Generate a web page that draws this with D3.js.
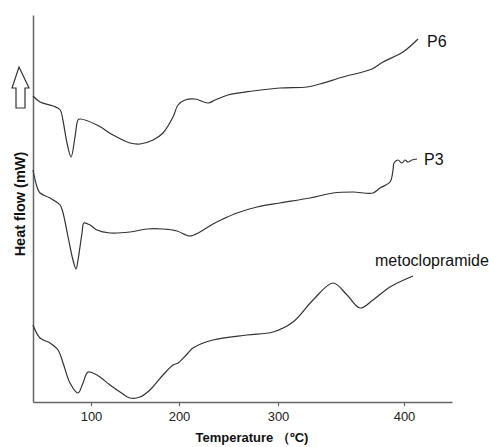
<!DOCTYPE html>
<html>
<head>
<meta charset="utf-8">
<script src="https://cdn.jsdelivr.net/npm/d3@7.9.0/dist/d3.min.js"></script>
<style>
  body { margin: 0; background: #fff; }
  svg { display: block; font-family: Arial, "Liberation Sans", sans-serif; }
</style>
</head>
<body>
<div id="chart"></div>
<script>
// DSC traces: [temperature (°C), heat flow (arbitrary offset units)]
const p6 = [
  [34, 30.6], [42, 30.0], [57, 29.6], [65, 29.2], [68, 28.2], [72.7, 25.9], [77.3, 24.5],
  [81.8, 26.5], [85.2, 28.2], [87.5, 28.3], [106.8, 27.7], [125, 26.7], [144.3, 25.9],
  [155.7, 25.8], [170.5, 26.2], [181.8, 26.9], [193.2, 28.5], [198.9, 29.7], [206.1, 30.2],
  [216.2, 30.3], [229.3, 29.9], [236.4, 30.2], [249.5, 30.7], [274.7, 31.1], [301.6, 31.4],
  [323, 31.5], [333.3, 31.8], [351.6, 32.5], [374.6, 33.3], [383.3, 34.0], [399.2, 35.0],
  [411.1, 36.3]
];

const p3 = [
  [34, 23.2], [38.6, 21.5], [42, 20.9], [53.4, 20.4], [64.8, 19.7], [68.2, 18.9], [73.9, 16.5],
  [79.5, 14.2], [83, 13.3], [85.2, 14.2], [89.8, 16.9], [92, 17.9], [98.9, 17.7], [106.8, 17.2],
  [121.6, 16.9], [144.3, 17.0], [163.6, 17.3], [181.8, 17.3], [197.7, 17.1],
  [211.1, 16.6], [221.2, 17.0], [234.3, 17.8], [244.4, 18.3], [258.6, 18.9], [278.8, 19.5],
  [301.6, 19.9], [325.4, 20.4], [343.7, 20.9], [359.5, 21.0], [375.4, 20.9], [381, 21.4],
  [388.9, 22.0], [391.3, 23.2], [392.1, 23.9], [395.2, 24.2], [398.4, 23.9], [400.8, 24.2],
  [403.2, 24.0], [406.3, 24.2], [410.3, 24.3]
];

const metoclopramide = [
  [34, 7.7], [42, 6.4], [53.4, 5.9], [62.5, 5.2], [68.2, 3.9], [76.1, 1.9], [85.2, 0.9],
  [90.9, 1.9], [96.6, 3.0], [106.8, 2.7], [121.6, 1.7], [133, 1.0], [144.3, 0.4], [155.7, 0.5],
  [167, 1.2], [181.8, 2.7], [193.2, 3.7], [198.9, 3.9], [209.1, 4.9], [214.1, 5.4],
  [234.3, 6.2], [268.7, 6.7], [294.9, 7.0], [311.9, 8.0], [327.8, 10.2], [343.7, 11.9],
  [354.8, 10.7], [365.1, 9.4], [375.4, 10.2], [388.9, 11.5], [407.1, 12.6]
];

const seriesNames = ['P6', 'P3', 'metoclopramide'];
const xTicks = [100, 200, 300, 400];

const width = 489;
const height = 447;

const svg = d3.select('#chart')
  .append('svg')
  .attr('width', width)
  .attr('height', height);

// the printed temperature axis is not evenly spaced, so piecewise scale
const x = d3.scaleLinear()
  .domain([34, 100, 200, 300, 400, 438])
  .range([33, 91, 179, 278, 404, 452]);

const y = d3.scaleLinear().domain([0, 38.7]).range([402, 15]);

// axes
const xAxis = svg.append('g')
  .attr('transform', `translate(0, ${y(0)})`)
  .call(d3.axisBottom(x).tickValues(xTicks).tickSize(4).tickSizeOuter(0).tickPadding(6));
xAxis.select('.domain').attr('stroke', '#666').attr('stroke-width', 1.5);
xAxis.selectAll('.tick line').attr('stroke', '#666').attr('stroke-width', 1.2);
xAxis.selectAll('.tick text')
  .attr('fill', '#222')
  .style('font-size', '13px')
  .style('font-family', 'Arial, "Liberation Sans", sans-serif');

const yAxis = svg.append('g')
  .attr('transform', `translate(${x(34)}, 0)`)
  .call(d3.axisLeft(y).tickValues([]).tickSizeOuter(0));
yAxis.select('.domain').attr('stroke', '#666').attr('stroke-width', 1.5);

// curves
const line = d3.line()
  .x((d) => x(d[0]))
  .y((d) => y(d[1]))
  .curve(d3.curveCatmullRom.alpha(0.5));

[p6, p3, metoclopramide].forEach((s) => {
  svg.append('path')
    .datum(s)
    .attr('d', line)
    .attr('fill', 'none')
    .attr('stroke', '#333')
    .attr('stroke-width', 1.2);
});

// series labels
const labelPos = [[427, 47], [424, 165], [375, 266]];
seriesNames.forEach((name, i) => {
  svg.append('text')
    .attr('x', labelPos[i][0])
    .attr('y', labelPos[i][1])
    .attr('fill', '#111')
    .style('font-size', '16px')
    .text(name);
});

// axis titles
svg.append('text')
  .attr('x', 252)
  .attr('y', 442)
  .attr('text-anchor', 'middle')
  .attr('fill', '#111')
  .style('font-size', '13px')
  .style('font-weight', 'bold')
  .text('Temperature （ºC)');

svg.append('text')
  .attr('transform', 'translate(25, 204) rotate(-90)')
  .attr('text-anchor', 'middle')
  .attr('fill', '#111')
  .style('font-size', '14.5px')
  .style('font-weight', 'bold')
  .text('Heat flow (mW)');

// hollow "endo up" arrow
svg.append('path')
  .attr('d', 'M19,67 L29,88 L25,88 L25,108 L16,108 L16,88 L12,88 Z')
  .attr('fill', '#fff')
  .attr('stroke', '#333')
  .attr('stroke-width', 1.2);
</script>
</body>
</html>
